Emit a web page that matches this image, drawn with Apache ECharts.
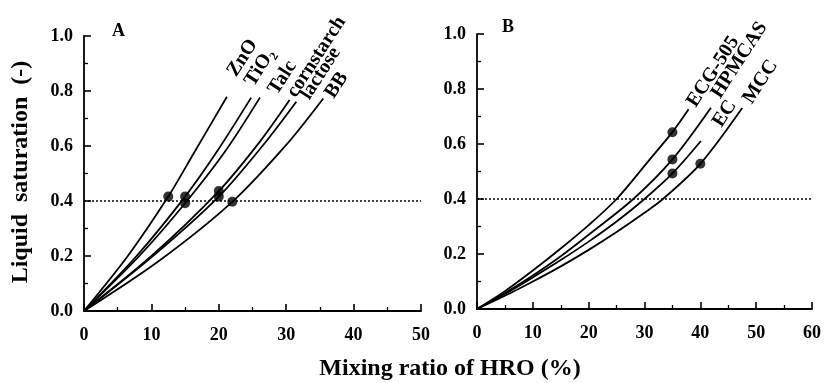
<!DOCTYPE html>
<html><head><meta charset="utf-8">
<script src="https://cdn.jsdelivr.net/npm/echarts@6/dist/echarts.min.js"></script>
<style>html,body{margin:0;padding:0;background:#fff}#c{width:824px;height:383px}</style>
</head><body><div id="c"></div>
<script>
// ---- Panel A data (x: mixing ratio %, y: liquid saturation) ----
const namesA = ['ZnO', 'TiO₂', 'Talc', 'cornstarch', 'lactose', 'BB'];
const curveZnO = [[0,0],[6.5,0.2],[12.5,0.416],[16.2,0.57],[21.2,0.779]];
const curveTiO2 = [[0,0],[7.8,0.2],[15,0.416],[19.7,0.579],[24.8,0.776]];
const curveTalc = [[0,0],[8.2,0.2],[15,0.392],[20.9,0.579],[26.1,0.776]];
const curveCornstarch = [[0,0],[10,0.2],[20,0.436],[26.1,0.616],[30.5,0.767]];
const curveLactose = [[0,0],[10,0.195],[20,0.416],[26.8,0.61],[31.5,0.761]];
const curveBB = [[0,0],[11,0.18],[22,0.397],[30,0.604],[35.5,0.773]];
const pointsA = [[12.5,0.416],[15,0.416],[15,0.392],[20,0.436],[20,0.416],[22,0.397]];

// ---- Panel B data ----
const namesB = ['ECG-505', 'HPMCAS', 'EC', 'MCC'];
const curveECG = [[0,0],[5,0.065],[10,0.14],[15,0.22],[20,0.305],[25,0.4],[30.7,0.538],[35,0.643],[37.9,0.726]];
const curveHPMCAS = [[0,0],[5,0.058],[10,0.122],[15,0.192],[20,0.27],[28,0.4],[35,0.544],[41.9,0.732]];
const curveEC = [[0,0],[5,0.055],[10,0.115],[15,0.178],[20,0.245],[25,0.318],[30,0.4],[35,0.493],[40.1,0.611]];
const curveMCC = [[0,0],[5,0.048],[10,0.1],[15,0.155],[20,0.215],[25,0.28],[30,0.35],[33.3,0.4],[40,0.528],[47.5,0.731]];
const pointsB = [[35,0.643],[35,0.544],[35,0.493],[40,0.528]];

const refLevel = 0.4;
const xMaxA = 50, xMaxB = 60;

const curvesA = [curveZnO, curveTiO2, curveTalc, curveCornstarch, curveLactose, curveBB];
const curvesB = [curveECG, curveHPMCAS, curveEC, curveMCC];

// label offsets (along text direction, perpendicular) in px — styling only
const offA = [[21,2],[10,1],[11,18],[5,9],[8,15],[5,14]];
const offB = [[5,10],[12,8],[22,15],[8,11]];

const FF = '"Liberation Serif", "Times New Roman", serif';
const black = '#000';

function axisCommon(min, max, interval, isY) {
  return {
    type: 'value', min: min, max: max, interval: interval,
    axisLine: { show: true, onZero: false, lineStyle: { color: black, width: 1.8 } },
    axisTick: { show: true, inside: true, length: 7, lineStyle: { color: black, width: 1.6 } },
    minorTick: { show: true, splitNumber: 2, length: 4, lineStyle: { color: black, width: 1.3 } },
    splitLine: { show: false }, minorSplitLine: { show: false },
    axisLabel: {
      color: black, fontFamily: FF, fontWeight: 'bold', fontSize: 18,
      margin: isY ? 11 : 15,
      formatter: isY ? (v => v.toFixed(1)) : (v => String(v))
    }
  };
}

function curveSeries(data, name, idx, off, first) {
  const last = data[data.length - 1];
  const s = {
    type: 'line', name: name, xAxisIndex: idx, yAxisIndex: idx,
    data: data, smooth: 0.3, showSymbol: false, silent: true,
    lineStyle: { color: black, width: 1.8 }, z: 3,
    markPoint: {
      symbol: 'circle', symbolSize: 0, silent: true, animation: false,
      data: [{ coord: last, value: name }],
      label: {
        show: true, formatter: name, position: [0, 0], align: 'left', verticalAlign: 'bottom',
        rotate: 57, offset: off, color: black, fontFamily: FF, fontWeight: 'bold', fontSize: 20
      }
    }
  };
  if (first) {
    s.markLine = {
      silent: true, symbol: ['none', 'none'], animation: false,
      lineStyle: { color: black, width: 1.6, type: [2, 2] },
      label: { show: false },
      data: [{ yAxis: refLevel }]
    };
  }
  return s;
}

const series = [];
curvesA.forEach((c, i) => series.push(curveSeries(c, namesA[i], 0, offA[i], i === 0)));
curvesB.forEach((c, i) => series.push(curveSeries(c, namesB[i], 1, offB[i], i === 0)));
series.push({ type: 'scatter', xAxisIndex: 0, yAxisIndex: 0, data: pointsA, symbolSize: 10,
  itemStyle: { color: black }, z: 5, silent: true });
series.push({ type: 'scatter', xAxisIndex: 1, yAxisIndex: 1, data: pointsB, symbolSize: 10,
  itemStyle: { color: black }, z: 5, silent: true });

const chart = echarts.init(document.getElementById('c'), null, { renderer: 'canvas' });
chart.setOption({
  animation: false,
  backgroundColor: '#fff',
  grid: [
    { left: 84, top: 36, width: 337, height: 275 },
    { left: 477, top: 34, width: 338, height: 275 }
  ],
  xAxis: [axisCommon(0, xMaxA, 10, false), Object.assign(axisCommon(0, xMaxB, 10, false), { gridIndex: 1 })],
  yAxis: [axisCommon(0, 1, 0.2, true), Object.assign(axisCommon(0, 1, 0.2, true), { gridIndex: 1 })],
  graphic: [
    { type: 'text', x: 112, y: 31, style: { text: 'A', font: 'bold 18px ' + FF, fill: black, align: 'left', verticalAlign: 'middle' } },
    { type: 'text', x: 502, y: 27, style: { text: 'B', font: 'bold 18px ' + FF, fill: black, align: 'left', verticalAlign: 'middle' } },
    { type: 'text', x: 21, y: 172, rotation: Math.PI / 2, style: { text: 'Liquid  saturation  (-)', font: 'bold 24px ' + FF, fill: black, align: 'center', verticalAlign: 'middle' } },
    { type: 'text', x: 450, y: 369, style: { text: 'Mixing ratio of HRO (%)', font: 'bold 24px ' + FF, fill: black, align: 'center', verticalAlign: 'middle' } }
  ],
  series: series
});
</script></body></html>
